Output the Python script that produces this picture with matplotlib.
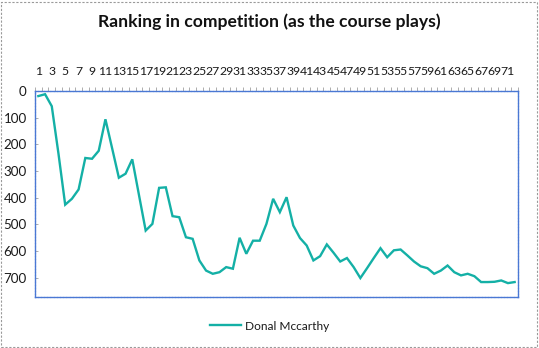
import matplotlib
matplotlib.use("Agg")
import matplotlib.pyplot as plt
from matplotlib.patches import Rectangle
from matplotlib.ticker import FixedLocator, NullFormatter

# Hole-by-hole ranking (1 = leader) for the player, in course order
holes = list(range(1, 73))
ranking = [19, 12, 57, 235, 426, 404, 369, 251, 254, 224,
           106, 215, 325, 310, 256, 390, 523, 498, 363, 361,
           469, 473, 548, 554, 635, 673, 685, 679, 660, 666,
           550, 610, 561, 561, 498, 404, 454, 398, 504, 551,
           579, 635, 619, 575, 606, 639, 626, 660, 701, 664,
           626, 589, 623, 597, 594, 616, 639, 657, 664, 685,
           673, 654, 679, 691, 685, 694, 716, 716, 715, 710,
           720, 716]
player = "Donal Mccarthy"
title = "Ranking in competition (as the course plays)"
y_ticks = [0, 100, 200, 300, 400, 500, 600, 700]
y_max = 772

line_color = "#14B0A6"
frame_color = "#4A78D4"
font = ["Lato", "DejaVu Sans"]

fig = plt.figure(figsize=(5.39, 3.48), dpi=100)
fig.patch.set_facecolor("white")

# dashed outer chart border
fig.patches.append(Rectangle((0.002, 0.004), 0.994, 0.99, transform=fig.transFigure,
                             fill=False, edgecolor="#9A9A9A", linewidth=0.8,
                             linestyle=(0, (2, 1.5))))

ax = fig.add_axes([35 / 539, 1 - 297 / 348, 483 / 539, 206 / 348])
ax.plot(holes, ranking, color=line_color, linewidth=1.7, label=player,
        solid_joinstyle="miter")

ax.set_xlim(0.5, len(holes) + 0.5)
ax.set_ylim(y_max, 0)

# category labels along the top
ax.xaxis.tick_top()
ax.set_xticks(holes[::2])
ax.set_xticklabels([str(h) for h in holes[::2]], family=font, fontsize=8.8,
                   color="#1a1a1a")
ax.xaxis.set_minor_locator(FixedLocator([h + 0.5 for h in [0] + holes]))
ax.xaxis.set_minor_formatter(NullFormatter())
ax.tick_params(axis="x", which="major", length=0, pad=10)
ax.tick_params(axis="x", which="minor", length=3, width=0.6, color="#A0A0A0",
               direction="out")

ax.set_yticks(y_ticks)
ax.set_yticklabels([str(v) for v in y_ticks], family=font, fontsize=9.6,
                   color="#1a1a1a")
ax.tick_params(axis="y", length=2, width=0.6, color="#A0A0A0", direction="in",
               pad=6)

for side in ax.spines.values():
    side.set_edgecolor(frame_color)
    side.set_linewidth(1.0)
    side.set_linestyle((0, (1.5, 0.8)))

fig.text(0.5, 1 - 22 / 348, title, ha="center", va="center",
         family=font, fontsize=12.6, fontweight="bold", color="#111111")

leg = fig.legend(loc="center", bbox_to_anchor=(0.5, 1 - 326 / 348), frameon=False,
                 prop={"family": font, "size": 8.6}, handlelength=2.6,
                 handletextpad=0.3)
for t in leg.get_texts():
    t.set_color("#1a1a1a")

fig.savefig("out.png", dpi=100, facecolor="white")
